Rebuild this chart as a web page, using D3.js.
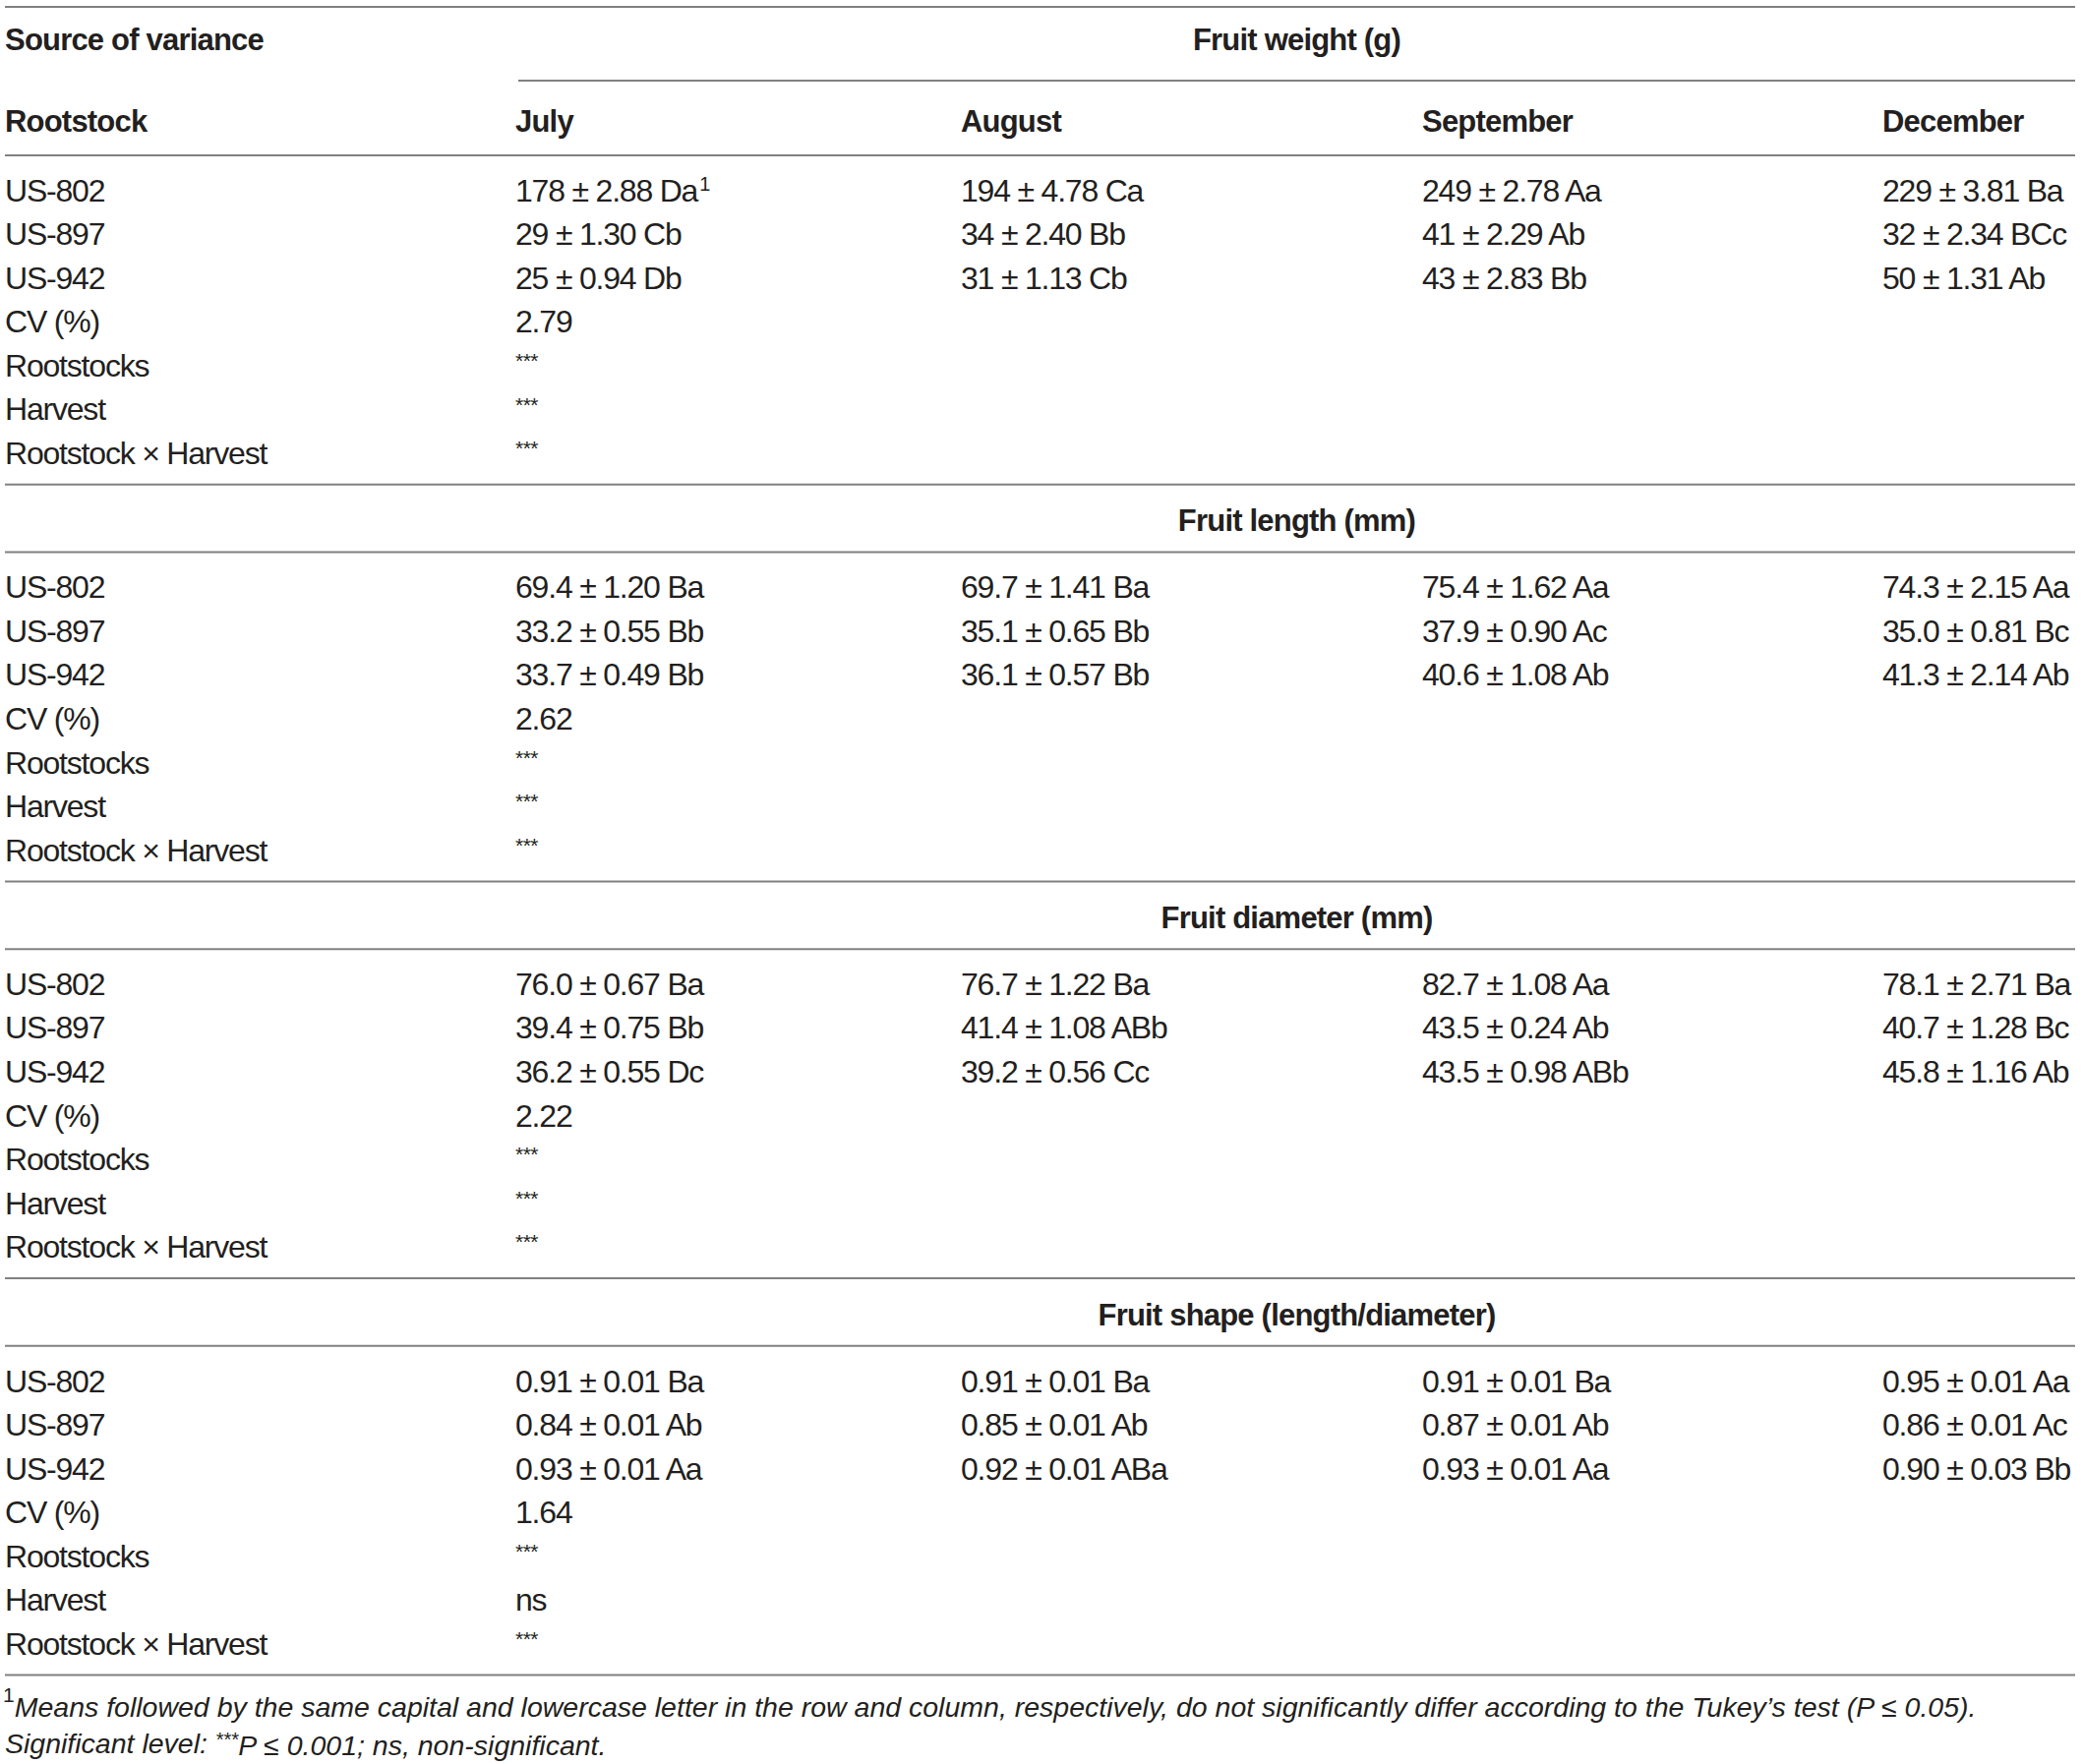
<!DOCTYPE html>
<html>
<head>
<meta charset="utf-8">
<script src="https://cdn.jsdelivr.net/npm/d3@7"></script>
<style>
  body { margin: 0; background: #fff; }
  text { font-family: "Liberation Sans", Arial, Helvetica, sans-serif; fill: #231f20; }
  .cell { font-size: 32px; letter-spacing: -1.2px; }
  .bold { font-size: 31px; font-weight: bold; letter-spacing: -0.8px; }
  .sig { font-size: 21px; letter-spacing: -0.5px; }
  .note { font-size: 28.5px; font-style: italic; letter-spacing: 0px; }
  .rule { stroke: #808080; stroke-width: 2; }
</style>
</head>
<body>
<script>
var width = 2117, height = 1794;

// ---- data ----
var months = ["July", "August", "September", "December"];
var rootstocks = ["US-802", "US-897", "US-942"];
var statLabels = ["CV (%)", "Rootstocks", "Harvest", "Rootstock \u00d7 Harvest"];
var sections = ["Fruit weight (g)", "Fruit length (mm)", "Fruit diameter (mm)", "Fruit shape (length/diameter)"];

var weightCells = [
  ["178 \u00b1 2.88 Da", "194 \u00b1 4.78 Ca", "249 \u00b1 2.78 Aa", "229 \u00b1 3.81 Ba"],
  ["29 \u00b1 1.30 Cb", "34 \u00b1 2.40 Bb", "41 \u00b1 2.29 Ab", "32 \u00b1 2.34 BCc"],
  ["25 \u00b1 0.94 Db", "31 \u00b1 1.13 Cb", "43 \u00b1 2.83 Bb", "50 \u00b1 1.31 Ab"]
];
var lengthCells = [
  ["69.4 \u00b1 1.20 Ba", "69.7 \u00b1 1.41 Ba", "75.4 \u00b1 1.62 Aa", "74.3 \u00b1 2.15 Aa"],
  ["33.2 \u00b1 0.55 Bb", "35.1 \u00b1 0.65 Bb", "37.9 \u00b1 0.90 Ac", "35.0 \u00b1 0.81 Bc"],
  ["33.7 \u00b1 0.49 Bb", "36.1 \u00b1 0.57 Bb", "40.6 \u00b1 1.08 Ab", "41.3 \u00b1 2.14 Ab"]
];
var diameterCells = [
  ["76.0 \u00b1 0.67 Ba", "76.7 \u00b1 1.22 Ba", "82.7 \u00b1 1.08 Aa", "78.1 \u00b1 2.71 Ba"],
  ["39.4 \u00b1 0.75 Bb", "41.4 \u00b1 1.08 ABb", "43.5 \u00b1 0.24 Ab", "40.7 \u00b1 1.28 Bc"],
  ["36.2 \u00b1 0.55 Dc", "39.2 \u00b1 0.56 Cc", "43.5 \u00b1 0.98 ABb", "45.8 \u00b1 1.16 Ab"]
];
var shapeCells = [
  ["0.91 \u00b1 0.01 Ba", "0.91 \u00b1 0.01 Ba", "0.91 \u00b1 0.01 Ba", "0.95 \u00b1 0.01 Aa"],
  ["0.84 \u00b1 0.01 Ab", "0.85 \u00b1 0.01 Ab", "0.87 \u00b1 0.01 Ab", "0.86 \u00b1 0.01 Ac"],
  ["0.93 \u00b1 0.01 Aa", "0.92 \u00b1 0.01 ABa", "0.93 \u00b1 0.01 Aa", "0.90 \u00b1 0.03 Bb"]
];
var cvValues = ["2.79", "2.62", "2.22", "1.64"];
var rootstockSig = ["***", "***", "***", "***"];
var harvestSig = ["***", "***", "***", "ns"];
var interactionSig = ["***", "***", "***", "***"];

var sectionCells = [weightCells, lengthCells, diameterCells, shapeCells];

// ---- layout ----
var colX = d3.scaleOrdinal().domain(["label"].concat(months)).range([5, 524, 977, 1446, 1914]);
var right = 2110;
var spanLeft = 527;
var spanMid = (spanLeft + right) / 2;

// section block: top rule, header, rule, 7 rows
var sectionTop = d3.scaleLinear().domain([0, 1]).range([89.2, 492.8]);
var rowY = d3.scaleLinear().domain([0, 1]).range([104, 148.55]);

var svg = d3.select("body").append("svg")
    .attr("width", width)
    .attr("height", height);

svg.append("rect").attr("width", width).attr("height", height).attr("fill", "#fff");

function rule(y, x0) {
  svg.append("line").attr("class", "rule")
     .attr("x1", x0).attr("x2", right).attr("y1", y).attr("y2", y);
}

function cellText(x, y, str, cls) {
  return svg.append("text").attr("class", cls || "cell")
     .attr("x", x).attr("y", y).attr("dy", "0.36em").text(str);
}

// top header
rule(7, 5);
cellText(colX("label"), 40, "Source of variance", "bold");
cellText(spanMid, 40, sections[0], "bold").attr("text-anchor", "middle");
rule(82, spanLeft);
cellText(colX("label"), 123, "Rootstock", "bold");
months.forEach(function(m) { cellText(colX(m), 123, m, "bold"); });

sections.forEach(function(name, si) {
  var y0 = sectionTop(si);
  if (si > 0) {
    rule(y0, 5);
    cellText(spanMid, y0 + 36.4, name, "bold").attr("text-anchor", "middle");
  }
  rule(y0 + 68.8, 5);

  var cells = sectionCells[si];
  rootstocks.forEach(function(r, ri) {
    var y = y0 + rowY(ri);
    cellText(colX("label"), y, r);
    months.forEach(function(m, mi) {
      var t = cellText(colX(m), y, cells[ri][mi]);
      if (si === 0 && ri === 0 && mi === 0) {
        t.append("tspan").attr("font-size", 20).attr("dy", "-0.55em").attr("dx", 2).text("1");
      }
    });
  });

  statLabels.forEach(function(lab, k) {
    var y = y0 + rowY(3 + k);
    cellText(colX("label"), y, lab);
    var v = [cvValues, rootstockSig, harvestSig, interactionSig][k][si];
    if (v === "***") {
      cellText(colX("July"), y - 5, v, "sig");
    } else {
      cellText(colX("July"), y, v);
    }
  });
});

rule(sectionTop(sections.length - 1) + 403.6, 5);

// footnotes
var n1 = svg.append("text").attr("class", "note").attr("x", 3).attr("y", 1735).attr("dy", "0.36em");
n1.append("tspan").attr("font-style", "normal").attr("font-size", 21).attr("dy", "-0.2em").text("1");
n1.append("tspan").attr("dy", "0.55em")
  .text("Means followed by the same capital and lowercase letter in the row and column, respectively, do not significantly differ according to the Tukey\u2019s test (P \u2264 0.05).");

var n2 = svg.append("text").attr("class", "note").attr("x", 5).attr("y", 1773).attr("dy", "0.36em");
n2.append("tspan").text("Significant level: ");
n2.append("tspan").attr("font-size", 20).attr("dy", "-0.35em").text("***");
n2.append("tspan").attr("dy", "0.3em").text("P \u2264 0.001; ns, non-significant.");
</script>
</body>
</html>
